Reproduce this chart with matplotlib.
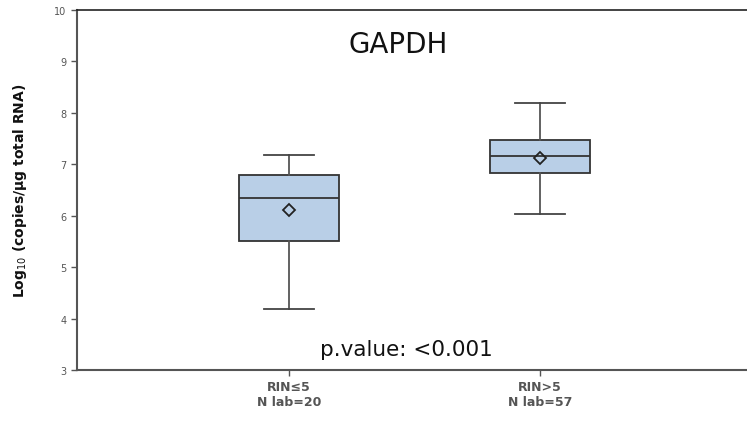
import matplotlib
matplotlib.use('Agg')
import matplotlib.pyplot as plt

# summary stats per group (whisker low, Q1, median, Q3, whisker high, mean)
groups = ['RIN≤5\nN lab=20', 'RIN>5\nN lab=57']
whislo = [4.19, 6.04]
q1 = [5.51, 6.84]
med = [6.34, 7.16]
q3 = [6.79, 7.48]
whishi = [7.19, 8.19]
means = [6.12, 7.12]

stats = []
for i, g in enumerate(groups):
    stats.append({'label': g, 'whislo': whislo[i], 'q1': q1[i], 'med': med[i],
                  'q3': q3[i], 'whishi': whishi[i], 'mean': means[i], 'fliers': []})

fig = plt.figure(figsize=(7.47, 4.27), dpi=100)
ax = fig.add_axes([77 / 747, 1 - 371 / 427, 1 - 77 / 747, (371 - 11) / 427])

ax.bxp(stats, positions=[1, 2], widths=0.4, capwidths=0.2, patch_artist=True,
       showmeans=True,
       boxprops=dict(facecolor='#b9cfe7', edgecolor='#333333', linewidth=1.3),
       medianprops=dict(color='#333333', linewidth=1.3),
       whiskerprops=dict(color='#555555', linewidth=1.3),
       capprops=dict(color='#444444', linewidth=1.3),
       meanprops=dict(marker='D', markerfacecolor='none', markeredgecolor='#222222',
                      markersize=6, markeredgewidth=1.3))

ax.set_xlim(0.155, 2.825)
ax.set_ylim(3, 10)
ax.set_yticks(range(3, 11))
ax.tick_params(axis='y', labelsize=7, colors='#555555', length=4, width=1)
ax.tick_params(axis='x', labelsize=9, colors='#555555', length=4, width=1)
for lab in ax.get_xticklabels():
    lab.set_fontweight('bold')

for s in ['left', 'bottom']:
    ax.spines[s].set_color('#555555')
    ax.spines[s].set_linewidth(1.5)
ax.spines['top'].set_color('#222222')
ax.spines['top'].set_linewidth(1.2)
ax.spines['right'].set_visible(False)

ax.set_ylabel('Log$_{10}$ (copies/μg total RNA)', fontsize=10, fontweight='bold',
              color='#111111', labelpad=18)

ax.text(1.434, 9.34, 'GAPDH', ha='center', va='center', fontsize=20, color='#111111')
ax.text(1.466, 3.41, 'p.value: <0.001', ha='center', va='center', fontsize=15.5, color='#111111')

fig.savefig('out.png', dpi=100)
